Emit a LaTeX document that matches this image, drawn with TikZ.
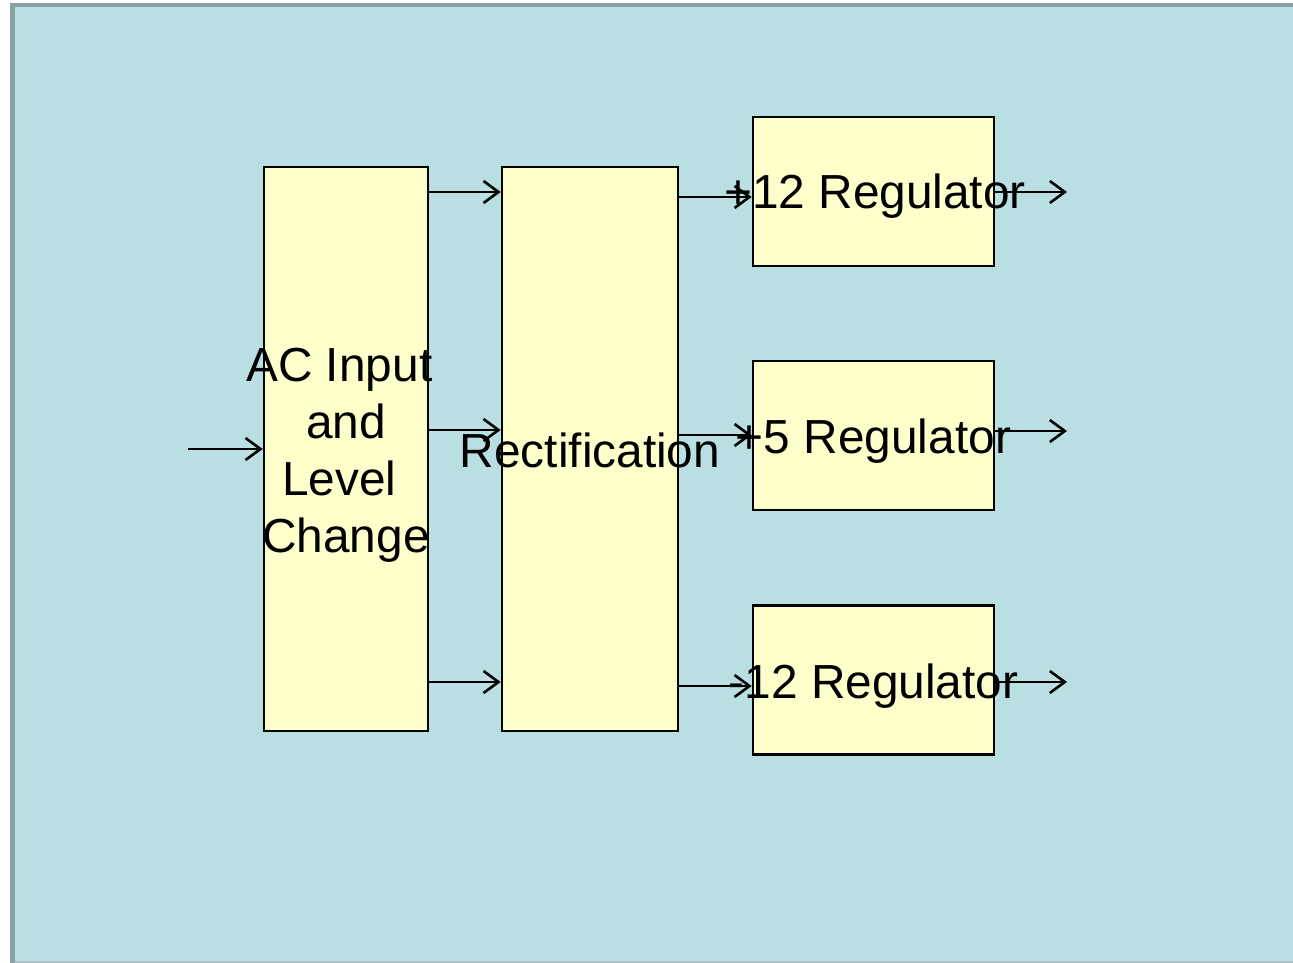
\documentclass[tikz,border=0pt]{standalone}
\usepackage{fontspec}
\setmainfont{Liberation Sans}
\usetikzlibrary{arrows.meta}
\definecolor{bgblue}{HTML}{B9DFE3}
\definecolor{edgegrey}{HTML}{88A3A3}
\definecolor{edgelight}{HTML}{A9C3C6}
\definecolor{boxyellow}{HTML}{FFFFCC}
\tikzset{
  blk/.style={draw=black, fill=boxyellow, line width=2.6pt, inner sep=0pt, rectangle},
  lbl/.style={inner sep=0pt, align=center, font=\fontsize{47.8}{57}\selectfont},
  arr/.style={line width=2.6pt, -{Straight Barb[length=15pt,width=22pt,line width=2.6pt]}}
}
\begin{document}
\begin{tikzpicture}[x=1pt,y=-1pt]
\useasboundingbox (0,0) rectangle (1293,963);
\fill[white] (0,0) rectangle (1293,963);
\fill[bgblue] (10,3) rectangle (1293,963);
\fill[edgegrey] (10,3) rectangle (1293,7.5);
\fill[edgegrey] (10,3) rectangle (14.5,963);
\fill[edgelight] (14.5,960.5) rectangle (1293,963);

\node[blk, minimum width=164pt, minimum height=564pt] (ac) at (346,449) {};
\node[blk, minimum width=176pt, minimum height=564pt] (rect) at (590,449) {};
\node[blk, minimum width=241pt, minimum height=149pt] (r12) at (873.5,191.5) {};
\node[blk, minimum width=241pt, minimum height=149pt] (r5) at (873.5,435.5) {};
\node[blk, minimum width=241pt, minimum height=149pt] (rm12) at (873.5,680) {};

\coordinate (in) at (188,449);
\coordinate (o1) at (1067,192);
\coordinate (o2) at (1067,431);
\coordinate (o3) at (1067,682);

\draw[arr] (in) -- (ac.west);
\draw[arr] (ac.east |- 0,192) -- (rect.west |- 0,192);
\draw[arr] (ac.east |- 0,430) -- (rect.west |- 0,430);
\draw[arr] (ac.east |- 0,682) -- (rect.west |- 0,682);
\draw[arr] (rect.east |- 0,197) -- (r12.west |- 0,197);
\draw[arr] (rect.east |- 0,435) -- (r5.west |- 0,435);
\draw[arr] (rect.east |- 0,686) -- (rm12.west |- 0,686);
\draw[arr] (r12.east |- o1) -- (o1);
\draw[arr] (r5.east |- o2) -- (o2);
\draw[arr] (rm12.east |- o3) -- (o3);

\node[lbl, yshift=-6pt] (acl) at (ac.center) {\mbox{AC Input\kern0.278em}\\and\\\mbox{Level\kern0.278em}\\Change};
\node[lbl, anchor=base] (rectl) at (590,467) {Rectification};
\node[lbl, anchor=base] (r12l) at (875,208.5) {+12 Regulator};
\node[lbl, anchor=base] (r5l) at (873.5,453) {+5 Regulator};
\node[lbl, anchor=base] (rm12l) at (873.5,698) {-12 Regulator};
\end{tikzpicture}
\end{document}
